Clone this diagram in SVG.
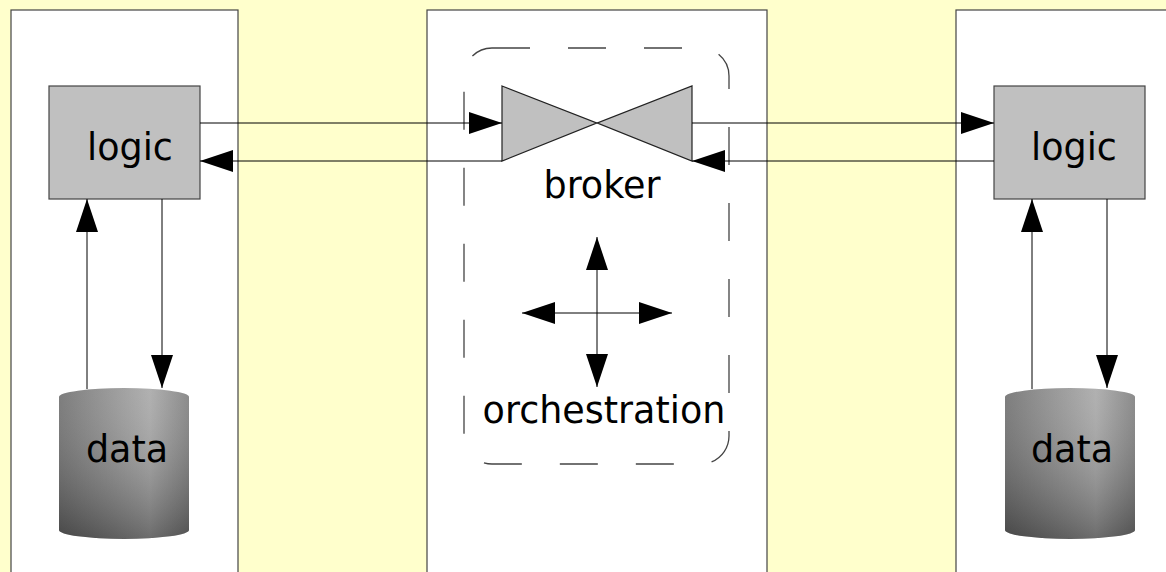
<svg xmlns="http://www.w3.org/2000/svg" width="1166" height="572" viewBox="0 0 1166 572">
<style>
.panel{fill:#ffffff;stroke:#444;stroke-width:1.2}
.logic{fill:#c0c0c0;stroke:#444;stroke-width:1.2}
.lbl{font-family:"DejaVu Sans",sans-serif;font-size:36.5px;fill:#000;text-anchor:middle}
.ln{stroke:#000;stroke-width:1;fill:none}
.dash{fill:none;stroke:#444;stroke-width:1.3;stroke-dasharray:38 38}
</style>
<defs>
<marker id="ah" markerUnits="userSpaceOnUse" markerWidth="34" markerHeight="24" refX="33" refY="11" orient="auto">
<path d="M0,0 L33,11 L0,22 z" fill="#000"/>
</marker>
<linearGradient id="cyl" x1="0" y1="0" x2="1" y2="0">
<stop offset="0" stop-color="#6c6c6c"/>
<stop offset="0.7" stop-color="#a6a6a6"/>
<stop offset="1" stop-color="#7c7c7c"/>
</linearGradient>
<linearGradient id="shade" x1="0" y1="0" x2="0" y2="1">
<stop offset="0" stop-color="#fff" stop-opacity="0.12"/>
<stop offset="1" stop-color="#000" stop-opacity="0.35"/>
</linearGradient>
</defs>
<rect width="1166" height="572" fill="#ffffcc"/>
<g id="panel-left"><rect class="panel" x="11" y="10" width="227" height="580"/></g>
<g id="panel-mid"><rect class="panel" x="427" y="10" width="340" height="580"/></g>
<g id="panel-right"><rect class="panel" x="956" y="10" width="230" height="580"/></g>

<g id="orchestration-frame"><rect class="dash" x="464" y="48" width="265" height="416" rx="28" ry="28"/></g>

<g id="logic-left"><rect class="logic" x="49" y="86" width="151" height="113"/><text class="lbl" x="130" y="160">logic</text></g>
<g id="logic-right"><rect class="logic" x="994" y="86" width="151" height="113"/><text class="lbl" x="1074" y="160">logic</text></g>

<g id="broker">
<polygon points="502,86 597,123 692,86 692,161 597,123 502,161" fill="#c0c0c0" stroke="#222" stroke-width="1.2"/>
<text class="lbl" x="602" y="198">broker</text>
</g>

<g id="data-left">
<path d="M59,397 A65,9 0 0 1 189,397 L189,530 A65,9 0 0 1 59,530 Z" fill="url(#cyl)"/>
<path d="M59,397 A65,9 0 0 1 189,397 L189,530 A65,9 0 0 1 59,530 Z" fill="url(#shade)"/>
<text class="lbl" x="127" y="462">data</text>
</g>
<g id="data-right">
<path d="M1005,397 A65,9 0 0 1 1135,397 L1135,530 A65,9 0 0 1 1005,530 Z" fill="url(#cyl)"/>
<path d="M1005,397 A65,9 0 0 1 1135,397 L1135,530 A65,9 0 0 1 1005,530 Z" fill="url(#shade)"/>
<text class="lbl" x="1072" y="462">data</text>
</g>

<g id="orchestration-label"><text class="lbl" x="604" y="423">orchestration</text></g>

<g id="connectors">
<line class="ln" x1="200" y1="123" x2="502" y2="123" marker-end="url(#ah)"/>
<line class="ln" x1="502" y1="161" x2="200" y2="161" marker-end="url(#ah)"/>
<line class="ln" x1="692" y1="123" x2="994" y2="123" marker-end="url(#ah)"/>
<line class="ln" x1="994" y1="161" x2="692" y2="161" marker-end="url(#ah)"/>
<line class="ln" x1="87" y1="389" x2="87" y2="199" marker-end="url(#ah)"/>
<line class="ln" x1="162" y1="199" x2="162" y2="388" marker-end="url(#ah)"/>
<line class="ln" x1="1032" y1="389" x2="1032" y2="199" marker-end="url(#ah)"/>
<line class="ln" x1="1107" y1="199" x2="1107" y2="388" marker-end="url(#ah)"/>
<line class="ln" x1="597" y1="313" x2="597" y2="237" marker-end="url(#ah)" stroke="#444"/>
<line class="ln" x1="597" y1="313" x2="597" y2="387" marker-end="url(#ah)" stroke="#444"/>
<line class="ln" x1="597" y1="313" x2="522" y2="313" marker-end="url(#ah)"/>
<line class="ln" x1="597" y1="313" x2="672" y2="313" marker-end="url(#ah)"/>
</g>
</svg>
